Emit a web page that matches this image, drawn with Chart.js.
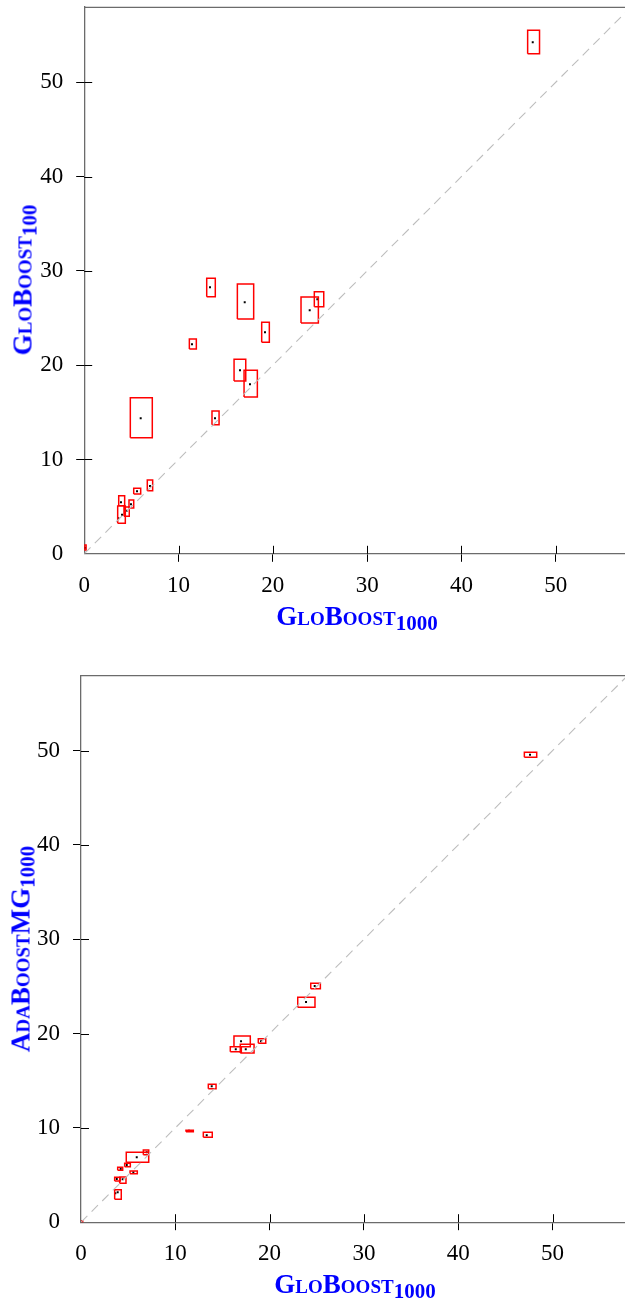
<!DOCTYPE html>
<html>
<head>
<meta charset="utf-8">
<script src="https://cdn.jsdelivr.net/npm/chart.js@4.4.1/dist/chart.umd.min.js"></script>
<style>
html,body{margin:0;padding:0;background:#fff;overflow:hidden;width:625px;height:1300px;}
.wrap{position:absolute;left:0;width:640px;}
.ttl{position:absolute;color:#0000ff;font-family:"Liberation Serif",serif;font-weight:bold;font-variant:small-caps;font-size:27px;white-space:nowrap;line-height:1;}
.ttl sub{font-size:21px;font-variant:normal;vertical-align:baseline;position:relative;top:5px;}
</style>
</head>
<body>
<div class="wrap" style="top:0;height:640px;"><canvas id="c1" width="640" height="640"></canvas></div>
<div class="wrap" style="top:640px;height:660px;"><canvas id="c2" width="640" height="660"></canvas></div>
<div class="ttl" style="left:357px;top:616px;transform:translate(-50%,-50%);">GloBoost<sub>1000</sub></div>
<div class="ttl" style="left:23px;top:280px;transform:translate(-50%,-50%) rotate(-90deg);">GloBoost<sub>100</sub></div>
<div class="ttl" style="left:355px;top:1284px;transform:translate(-50%,-50%);">GloBoost<sub>1000</sub></div>
<div class="ttl" style="left:21px;top:949px;transform:translate(-50%,-50%) rotate(-90deg);">AdaBoostMG<sub>1000</sub></div>
<script>
// ---- Axis ticks ----
const tickValues = [0, 10, 20, 30, 40, 50];
const axisMax = 58;

// ---- Chart 1: GloBoost1000 (x) vs GloBoost100 (y) ----
const c1X    = [13.34, 17.02, 19.17, 11.43, 23.91, 24.72, 16.52, 17.58, 5.99, 13.87, 47.56, 6.98, 5.60, 4.96, 3.90, 4.51, 4.01, 3.62, 0.10];
const c1Y    = [28.26, 26.67, 23.49, 22.22, 25.82, 26.99, 19.46, 17.97, 14.37, 14.37, 54.24, 7.19, 6.63, 5.25, 5.46, 4.57, 4.15, 3.76, 0.65];
const c1XMin = [12.99, 16.24, 18.82, 11.15, 22.99, 24.40, 15.89, 16.95, 4.89, 13.55, 47.02, 6.69, 5.25, 4.75, 3.66, 4.22, 3.55, 3.62, 0.00];
const c1XMax = [13.90, 17.97, 19.63, 11.89, 24.83, 25.40, 17.13, 18.36, 7.22, 14.30, 48.28, 7.26, 5.99, 5.25, 4.29, 4.78, 4.36, 3.62, 0.20];
const c1YMin = [27.26, 24.90, 22.43, 21.72, 24.47, 26.20, 18.32, 16.63, 12.31, 13.69, 53.03, 6.69, 6.34, 4.86, 5.10, 3.98, 3.23, 3.76, 0.40];
const c1YMax = [29.21, 28.61, 24.55, 22.78, 27.23, 27.79, 20.63, 19.46, 16.55, 15.14, 55.51, 7.83, 6.95, 5.71, 6.16, 4.96, 5.07, 3.76, 0.93];

// ---- Chart 2: GloBoost1000 (x) vs AdaBoostMG1000 (y) ----
const c2X    = [16.97, 19.09, 16.41, 17.47, 13.86, 11.45, 13.33, 24.78, 23.86, 47.61, 5.91, 6.97, 4.85, 4.21, 5.55, 3.79, 4.42, 3.89, 3.64, 0.09];
const c2Y    = [19.18, 19.18, 18.34, 18.34, 14.41, 9.70, 9.22, 25.05, 23.35, 49.57, 6.88, 7.41, 6.07, 5.64, 5.29, 4.58, 4.55, 3.17, 3.06, 0.06];
const c2XMin = [16.22, 18.80, 15.83, 16.89, 13.50, 11.13, 12.97, 24.36, 22.98, 47.01, 4.80, 6.61, 4.63, 3.89, 5.20, 3.57, 4.10, 3.57, 3.64, 0.00];
const c2XMax = [17.95, 19.59, 17.00, 18.35, 14.32, 11.91, 13.92, 25.38, 24.81, 48.32, 7.18, 7.18, 5.23, 4.42, 5.97, 4.17, 4.77, 4.27, 3.64, 0.18];
const c2YMin = [18.61, 18.97, 18.08, 17.94, 14.16, 9.60, 9.00, 24.76, 22.79, 49.30, 6.35, 7.16, 5.89, 5.50, 5.14, 4.37, 4.13, 2.43, 3.06, 0.00];
const c2YMax = [19.75, 19.46, 18.61, 18.87, 14.62, 9.75, 9.53, 25.33, 23.85, 49.83, 7.41, 7.66, 6.25, 5.82, 5.43, 4.76, 4.79, 3.45, 3.06, 0.13];

function boxPoints(xMin, xMax, yMin, yMax) {
  const pts = [];
  for (let i = 0; i < xMin.length; i++) {
    pts.push({x: xMin[i], y: yMin[i]}, {x: xMax[i], y: yMin[i]}, {x: xMax[i], y: yMax[i]},
             {x: xMin[i], y: yMax[i]}, {x: xMin[i], y: yMin[i]}, {x: xMin[i], y: null});
  }
  return pts;
}
function dotPoints(xs, ys) { return xs.map((x, i) => ({x: x, y: ys[i]})); }

const framePlugin = {
  id: 'frame',
  afterDraw(chart) {
    const ctx = chart.ctx, a = chart.chartArea;
    const xs = chart.scales.x, ys = chart.scales.y;
    ctx.save();
    ctx.strokeStyle = '#6b6b6b';
    ctx.lineWidth = 1.2;
    ctx.beginPath();
    ctx.moveTo(a.left, a.top + 0.5);
    ctx.lineTo(a.right, a.top + 0.5);
    ctx.stroke();
    ctx.strokeStyle = '#000';
    ctx.lineWidth = 1;
    ctx.beginPath();
    xs.ticks.forEach(t => {
      if (t.value === 0) return;
      const px = Math.round(xs.getPixelForValue(t.value)) + 0.5;
      ctx.moveTo(px, a.bottom); ctx.lineTo(px, a.bottom - 8);
    });
    ys.ticks.forEach(t => {
      if (t.value === 0) return;
      const py = Math.round(ys.getPixelForValue(t.value)) + 0.5;
      ctx.moveTo(a.left, py); ctx.lineTo(a.left + 8, py);
    });
    ctx.stroke();
    ctx.restore();
  }
};

function makeChart(id, xs, ys, xMin, xMax, yMin, yMax, geo) {
  const tickFont = {family: '"Liberation Serif", serif', size: 23};
  const gridCfg = {
    display: true, drawOnChartArea: false, drawTicks: true, tickLength: 8,
    tickColor: c => (c.tick && c.tick.value === 0) ? 'rgba(0,0,0,0)' : '#000',
    tickWidth: 1
  };
  const filterTicks = s => { s.ticks = s.ticks.filter(t => tickValues.includes(t.value)); };
  return new Chart(document.getElementById(id), {
    type: 'scatter',
    data: {
      datasets: [
        {type: 'line', data: [{x: 0, y: 0}, {x: axisMax, y: axisMax}], borderColor: '#bdbdbd',
         borderWidth: 1.1, borderDash: [9, 6], pointRadius: 0, fill: false},
        {type: 'line', data: boxPoints(xMin, xMax, yMin, yMax), borderColor: '#ff0000',
         borderWidth: 1.5, pointRadius: 0, spanGaps: false, fill: false, tension: 0},
        {type: 'scatter', data: dotPoints(xs, ys), pointStyle: 'rect', pointRadius: 1.4,
         backgroundColor: '#000', borderWidth: 0}
      ]
    },
    options: {
      responsive: false, animation: false, devicePixelRatio: 1,
      layout: {padding: {left: 0, right: geo.padRight, top: geo.padTop, bottom: 0}},
      plugins: {legend: {display: false}, tooltip: {enabled: false}},
      scales: {
        x: {
          type: 'linear', position: 'bottom', min: 0, max: axisMax,
          ticks: {stepSize: 10, includeBounds: false, font: tickFont, color: '#000', padding: 10, maxRotation: 0},
          afterBuildTicks: filterTicks,
          grid: gridCfg,
          border: {display: true, color: '#6b6b6b', width: 1.3},
          afterFit: s => { s.height = geo.xAxisH; s.paddingLeft = 0; s.paddingRight = 0; }
        },
        y: {
          type: 'linear', position: 'left', min: 0, max: axisMax,
          ticks: {stepSize: 10, includeBounds: false, font: tickFont, color: '#000', padding: 13},
          afterBuildTicks: filterTicks,
          grid: gridCfg,
          border: {display: true, color: '#6b6b6b', width: 1.3},
          afterFit: s => { s.width = geo.yAxisW; s.paddingTop = 0; s.paddingBottom = 0; }
        }
      }
    },
    plugins: [framePlugin]
  });
}

makeChart('c1', c1X, c1Y, c1XMin, c1XMax, c1YMin, c1YMax,
  {padRight: 640 - 631.2, padTop: 6.8, xAxisH: 640 - 553.8, yAxisW: 84.2});
makeChart('c2', c2X, c2Y, c2XMin, c2XMax, c2YMin, c2YMax,
  {padRight: 640 - 628, padTop: 35.2, xAxisH: 660 - 582.2, yAxisW: 81});
</script>
</body>
</html>
